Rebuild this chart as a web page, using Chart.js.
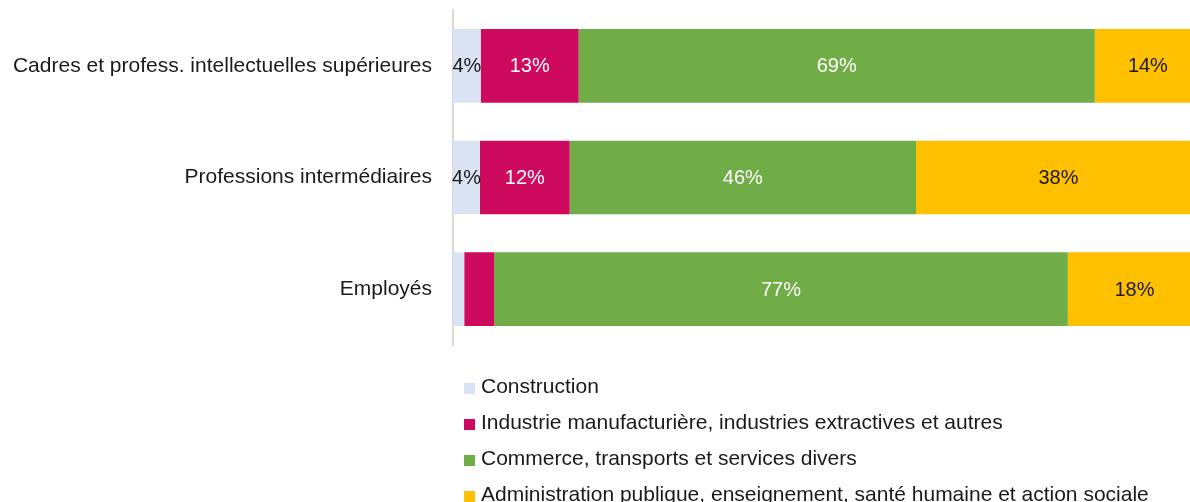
<!DOCTYPE html>
<html lang="fr">
<head>
<meta charset="utf-8">
<script src="https://cdn.jsdelivr.net/npm/chart.js@4.4.1/dist/chart.umd.min.js"></script>
<style>
  html, body { margin: 0; padding: 0; background: #fff; overflow: hidden; }
  body { width: 1190px; height: 502px; position: relative; }
  /* chart is a bit wider than the window, the right end gets cut like in the original */
  #wrap { position: absolute; left: 0; top: 0; width: 1204px; height: 502px; }
  #legend {
    position: absolute; left: 464px; top: 368px;
    font: 21px "Liberation Sans", Arial, sans-serif; color: #1a1a1a;
  }
  #legend .item { height: 36px; line-height: 36px; white-space: nowrap; }
  #legend .box { display: inline-block; width: 11px; height: 11px; margin-right: 6px; vertical-align: -1px; }
</style>
</head>
<body>
<div id="wrap"><canvas id="chartCanvas"></canvas></div>
<div id="legend"></div>
<script>
// ---- data ----
const categories = [
  "Cadres et profess. intellectuelles supérieures",
  "Professions intermédiaires",
  "Employés"
];
const seriesNames = [
  "Construction",
  "Industrie manufacturière, industries extractives et autres",
  "Commerce, transports et services divers",
  "Administration publique, enseignement, santé humaine et action sociale"
];
const construction   = [3.7, 3.6, 1.5];
const industrie      = [13.1, 12.0, 4.0];
const commerce       = [69.0, 46.3, 76.7];
const administration = [14.2, 38.1, 17.8];
// rows where the two small segments carry a label
const smallLabelsShown = [true, true, false];

const colors = ["#DAE3F3", "#CE0A5F", "#70AD47", "#FFC000"];
const labelColors = ["#1a1a1a", "#ffffff", "#ffffff", "#1a1a1a"];
const FONT = "'Liberation Sans', Arial, sans-serif";

// draw the % labels inside the bars
const barLabels = {
  id: "barLabels",
  afterDatasetsDraw(chart) {
    const ctx = chart.ctx;
    ctx.save();
    ctx.font = "20px " + FONT;
    ctx.textAlign = "center";
    ctx.textBaseline = "middle";
    chart.data.datasets.forEach((ds, i) => {
      const meta = chart.getDatasetMeta(i);
      meta.data.forEach((bar, j) => {
        if (i < 2 && !smallLabelsShown[j]) return;
        const p = bar.getCenterPoint();
        ctx.fillStyle = labelColors[i];
        ctx.fillText(Math.round(ds.data[j]) + "%", p.x, p.y + 1);
      });
    });
    ctx.restore();
  }
};

const ctx = document.getElementById("chartCanvas").getContext("2d");
const chart = new Chart(ctx, {
  type: "bar",
  data: {
    labels: categories,
    datasets: [construction, industrie, commerce, administration].map((d, i) => ({
      label: seriesNames[i],
      data: d,
      backgroundColor: colors[i],
      borderWidth: 0,
      barPercentage: 0.66,
      categoryPercentage: 1
    }))
  },
  options: {
    indexAxis: "y",
    responsive: true,
    maintainAspectRatio: false,
    animation: false,
    layout: { padding: { top: 10, right: 3, bottom: 157, left: 0 } },
    plugins: {
      legend: { display: false },
      tooltip: { enabled: false }
    },
    scales: {
      x: { stacked: true, min: 0, max: 100, display: false },
      y: {
        stacked: true,
        grid: { display: true, color: "rgba(0,0,0,0)", drawOnChartArea: false, drawTicks: true, tickLength: 21 },
        border: { display: true, color: "#d9d9d9", width: 2 },
        ticks: { color: "#1a1a1a", padding: 0, font: { family: FONT, size: 21, lineHeight: 0.8 } },
        afterFit(scale) { scale.width = 453; }
      }
    }
  },
  plugins: [barLabels]
});

// legend, one entry per line
const legendEl = document.getElementById("legend");
chart.data.datasets.forEach(ds => {
  const row = document.createElement("div");
  row.className = "item";
  const box = document.createElement("span");
  box.className = "box";
  box.style.background = ds.backgroundColor;
  row.appendChild(box);
  row.appendChild(document.createTextNode(ds.label));
  legendEl.appendChild(row);
});
</script>
</body>
</html>
